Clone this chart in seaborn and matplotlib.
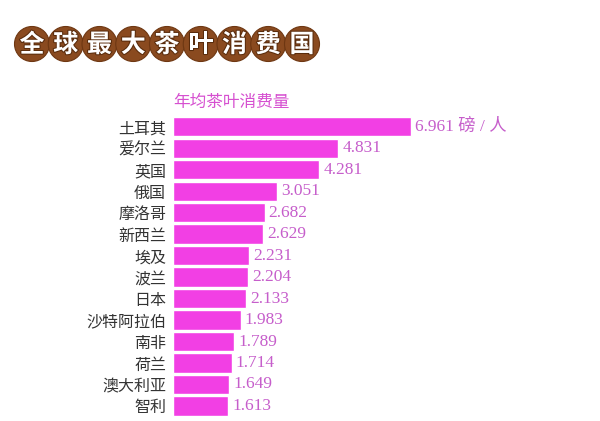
import pandas as pd
import seaborn as sns
import matplotlib.pyplot as plt
from matplotlib.patches import Circle
import matplotlib.patheffects as pe

# データ
countries = ['土耳其', '爱尔兰', '英国', '俄国', '摩洛哥', '新西兰', '埃及',
             '波兰', '日本', '沙特阿拉伯', '南非', '荷兰', '澳大利亚', '智利']
consumption = [6.961, 4.831, 4.281, 3.051, 2.682, 2.629, 2.231,
               2.204, 2.133, 1.983, 1.789, 1.714, 1.649, 1.613]
title_chars = list('全球最大茶叶消费国')
subtitle = '年均茶叶消费量'
unit = ' 磅 / 人'

sns.set_style('white')
plt.rcParams['font.family'] = ['Noto Sans CJK SC', 'DejaVu Sans']

df = pd.DataFrame({'country': countries, 'value': consumption})

fig = plt.figure(figsize=(6, 4.21), dpi=100)
fig.patch.set_facecolor('white')

# タイトル（茶色の丸）
ax_t = fig.add_axes([0, 0, 1, 1])
ax_t.set_xlim(0, 600)
ax_t.set_ylim(421, 0)
ax_t.axis('off')
for i, ch in enumerate(title_chars):
    cx = 32 + i * 33.75
    ax_t.add_patch(Circle((cx, 44), 17.5, facecolor='#8a4a1f', edgecolor='#6e3712', lw=0.8))
    ax_t.text(cx, 45, ch, color='white', fontsize=18, fontweight='bold',
              ha='center', va='center',
              path_effects=[pe.withStroke(linewidth=1.5, foreground='#5a2c0c')])

# 棒グラフ
ax = fig.add_axes([173 / 600, 0, 410 / 600, 1 - 116.0 / 421])
sns.barplot(data=df, x='value', y='country', color='#f23fe4', saturation=1,
            width=0.9, ax=ax)
ax.set_xlim(0, 12.0)
ax.set_ylim(13.7, -0.5)
ax.set_xlabel('')
ax.set_ylabel('')
ax.set_xticks([])
sns.despine(ax=ax, left=True, bottom=True)
ax.tick_params(axis='y', length=0, pad=5, labelsize=11.5, labelcolor='#333333')

for i, v in enumerate(consumption):
    label = f'{v:.3f}' + (unit if i == 0 else '')
    ax.text(v + 0.12, i, label, color='#c65ecb', fontsize=12.5, va='center',
            ha='left', family=['Liberation Serif', 'Noto Sans CJK SC'])

ax.text(0, -1.15, subtitle, color='#d650d0', fontsize=12, ha='left',
        va='center', clip_on=False)

fig.savefig('out.png', dpi=100)
